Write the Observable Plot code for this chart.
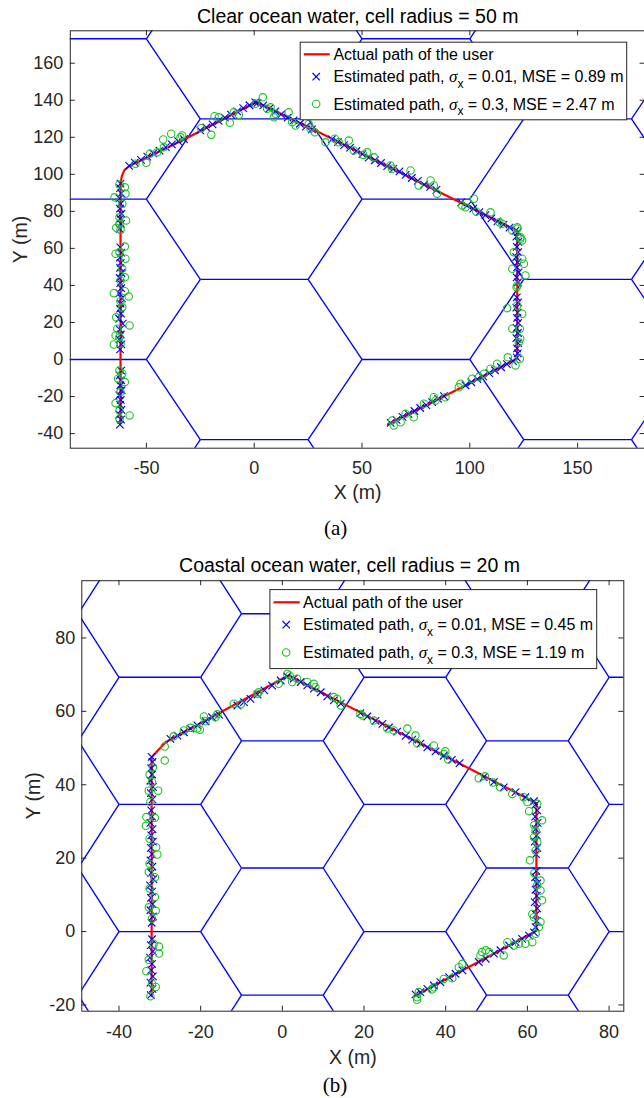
<!DOCTYPE html>
<html><head><meta charset="utf-8">
<script src="https://cdn.jsdelivr.net/npm/d3@7"></script>
<script src="https://cdn.jsdelivr.net/npm/@observablehq/plot@0.6"></script>
<style>
body{margin:0;background:#fff;width:644px;height:1098px;overflow:hidden;font-family:"Liberation Sans",Arial,Helvetica,sans-serif;}
.panel{position:absolute;left:0;width:644px;}
.panel svg{position:absolute;left:0;top:0;}
</style></head><body>
<div id="pa" class="panel" style="top:0;height:540px"></div>
<div id="pb" class="panel" style="top:540px;height:558px"></div>
<script>
// ---------- Panel (a): clear ocean water, cell radius 50 m ----------
const titleA = "Clear ocean water, cell radius = 50 m";
const cellRadiusA = 50;
const xTicksA = [-50, 0, 50, 100, 150];
const yTicksA = [-40, -20, 0, 20, 40, 60, 80, 100, 120, 140, 160];
const mseA = ["0.89", "2.47"];
const pathA = [[-62,-34.5],[-62,95],[-61.4,99],[-60.2,102.3],[-58,104.5],[-33,118.5],[1,139],[27,124.5],[90,88],[122,69.5],[122,0.5],[95,-15.8],[62,-35]];
const estA1 = [
[-62.3,-35.2],[-61.8,-32.5],[-62.4,-29.8],[-61.6,-27.2],[-62.2,-24.5],[-61.9,-21.8],[-62.5,-19.3],[-61.5,-16.6],[-62.1,-13.9],[-61.8,-11.2],[-62.4,-8.6],[-61.7,-6.0],
[-62.2,5.5],[-61.6,8.2],[-62.5,10.8],[-61.9,13.5],[-62.3,16.1],[-61.0,19.4],[-62.6,22.0],[-61.8,24.8],[-62.2,27.5],[-62.0,30.2],[-61.4,33.0],[-62.5,35.7],[-61.7,38.5],[-62.1,41.2],[-62.4,44.0],[-61.6,46.7],[-62.2,49.5],[-61.9,52.2],[-62.3,55.0],[-61.7,57.7],[-62.1,60.5],
[-62.4,70.5],[-61.8,73.2],[-62.2,76.0],[-61.6,78.7],[-62.3,81.5],[-61.9,84.2],[-62.5,87.0],[-61.7,89.7],[-62.2,92.5],[-62.0,95.0],
[-58.0,104.6],[-55.4,106.3],[-52.5,107.8],[-49.6,109.6],[-46.8,111.3],[-43.9,112.8],[-41.0,114.7],[-38.2,116.2],[-35.3,117.9],[-32.6,119.0],
[-25.0,123.7],[-22.2,125.3],[-19.3,127.0],[-16.5,128.9],[-13.6,130.6],[-10.8,132.2],[-7.9,134.0],[-5.1,135.7],[-2.2,137.3],[0.5,138.8],
[1.5,138.6],[4.2,137.2],[7.0,135.5],[9.8,134.0],[12.5,132.4],[15.5,130.6],[18.3,129.1],[21.2,127.3],[24.0,125.8],[26.8,124.3],
[36.0,118.9],[38.8,117.4],[41.7,115.8],[44.5,114.4],[47.4,112.6],[50.2,110.9],[53.1,109.0],[56.0,107.6],[58.8,106.1],[61.7,104.4],[64.5,102.9],[67.4,101.6],[70.2,99.7],[73.1,98.0],[75.9,96.5],[78.8,94.4],[81.6,93.2],[84.5,91.6],
[96.0,84.8],[98.8,83.1],[101.6,81.5],[104.4,79.6],[107.2,78.0],[110.0,76.2],[112.8,74.6],[115.6,72.8],[118.4,71.2],[121.2,69.6],
[122.3,68.8],[121.6,66.4],[122.5,63.5],[121.8,60.8],[122.4,58.0],[121.5,55.3],[122.2,52.5],[121.9,49.7],[122.6,47.0],[121.7,44.3],[122.3,41.6],
[121.8,33.5],[122.4,30.8],[121.6,28.0],[122.2,25.3],[121.9,22.5],[122.5,19.8],[121.7,17.0],[122.3,14.3],[121.6,11.5],[122.4,8.8],[121.9,6.0],[122.2,3.3],[121.8,1.0],
[120.0,-0.9],[117.2,-2.5],[114.5,-4.2],[111.7,-5.8],[109.0,-7.4],[106.2,-9.1],[103.5,-10.6],[100.7,-12.3],[98.0,-13.9],
[88.0,-19.8],[85.3,-21.3],[82.5,-23.0],[79.8,-24.6],[77.0,-26.2],[74.3,-27.8],[71.5,-29.4],[68.8,-31.0],[66.0,-32.6],[63.3,-34.2]];
const estA2 = [
[-62.5,94.5],[-60.0,93.0],[-59.7,89.5],[-64.8,87.6],[-61.2,84.1],[-62.5,76.8],[-59.4,75.1],[-62.5,73.3],[-64.0,71.1],[-62.0,70.0],[-60.0,61.0],[-64.3,57.1],[-62.5,57.9],[-59.7,54.4],[-61.2,49.0],[-60.0,44.4],[-62.0,42.7],[-65.1,35.8],[-60.0,36.9],[-58.2,34.0],[-62.0,31.5],[-61.2,28.2],[-64.0,22.8],[-57.8,18.4],[-63.5,16.6],[-64.3,13.0],[-62.5,12.0],[-65.1,8.1],[-62.0,8.5],[-62.5,-5.9],[-61.2,-7.7],[-63.1,-10.4],[-60.0,-12.2],[-62.0,-17.6],[-64.3,-23.6],[-62.5,-27.5],[-57.8,-30.2],[-62.5,-32.0],
[-55.1,105.7],[-50.0,106.2],[-48.4,111.1],[-45.0,111.9],[-41.9,114.6],[-42.2,118.8],[-38.5,121.9],[-34.2,120.0],[-33.4,121.0],[-24.6,124.9],[-19.9,121.3],[-18.4,131.4],[-16.4,130.8],[-11.3,127.8],[-9.5,133.5],[-7.1,132.1],[0.6,138.1],[4.0,141.6],[6.0,135.4],[9.1,130.8],
[7.6,136.2],[9.9,132.7],[16.0,133.5],[17.6,128.1],[19.2,126.3],[25.3,127.2],[26.1,124.6],[28.1,122.7],[33.1,117.3],[37.4,119.2],[39.2,117.3],[43.9,118.2],[46.2,112.9],[50.6,110.5],[52.4,111.9],[55.5,109.2],[63.2,104.8],[64.0,103.0],[72.5,102.1],[76.3,94.0],[81.8,96.7],[83.3,94.0],[84.8,89.5],[96.5,83.2],[98.0,82.2],[101.9,86.8],[103.0,79.8],[109.6,79.5],[113.7,74.1],[115.0,73.3],[122.0,71.4],[123.5,66.0],[119.7,69.7],
[122.0,70.6],[123.5,65.2],[124.3,64.3],[120.4,57.9],[124.3,54.4],[125.1,51.7],[119.7,49.0],[125.8,45.4],[122.0,40.0],[121.7,39.0],[117.3,27.7],[122.0,29.2],[124.3,24.7],[119.7,16.6],[123.2,16.6],[123.4,11.2],[122.7,9.3],[117.6,1.2],[123.2,0.4],[121.2,-3.2],
[112.7,-2.3],[109.6,-5.0],[106.5,-7.7],[104.2,-9.5],[101.1,-10.4],[95.7,-13.1],[94.9,-15.0],[88.7,-20.4],[83.3,-20.4],[84.1,-22.1],[78.7,-23.9],[74.0,-31.2],[70.2,-29.3],[67.9,-33.9],[64.7,-35.6],[64.0,-32.9]];

// ---------- Panel (b): coastal ocean water, cell radius 20 m ----------
const titleB = "Coastal ocean water, cell radius = 20 m";
const cellRadiusB = 20;
const xTicksB = [-40, -20, 0, 20, 40, 60, 80];
const yTicksB = [-20, 0, 20, 40, 60, 80];
const mseB = ["0.45", "1.19"];
const pathB = [[-32,-17.5],[-32,47.5],[-28.6,51.6],[1.5,69.8],[62.2,35],[62.2,0.2],[32.5,-17.5]];
const estB1 = [
[-32.2,-17.3],[-31.8,-15.6],[-32.3,-13.9],[-31.7,-12.2],[-32.1,-10.5],[-31.9,-8.8],[-32.4,-7.1],[-31.7,-5.4],[-32.2,-3.7],[-31.9,-2.1],
[-32.0,2.4],[-31.7,4.1],[-32.3,5.8],[-31.8,7.5],[-32.2,9.2],[-31.9,10.9],[-32.4,12.6],[-31.6,14.3],[-32.1,16.0],[-31.8,17.7],[-32.3,19.4],[-31.9,21.1],[-32.2,22.8],[-31.7,24.5],[-32.1,26.2],[-31.8,27.9],[-32.3,29.6],[-31.9,31.3],[-32.1,33.0],
[-31.8,36.0],[-32.2,37.7],[-31.7,39.4],[-32.3,41.1],[-31.9,42.8],[-32.1,44.5],[-31.8,46.2],[-32.0,47.6],
[-27.4,52.5],[-25.7,53.4],[-24.1,54.3],[-22.5,55.3],[-20.8,56.2],[-18.8,57.3],[-17.2,58.4],[-15.5,59.1],[-11.0,61.6],[-9.4,62.5],[-7.8,63.4],[-6.1,64.6],[-4.4,65.7],[-2.5,67.0],[-0.4,68.4],[1.2,69.5],
[2.8,68.9],[4.5,68.0],[6.1,67.1],[7.7,66.2],[9.4,65.2],[11.0,64.1],[12.6,63.0],[14.3,62.1],[19.1,59.5],[20.8,58.6],[22.8,57.4],[24.5,56.6],[26.1,55.6],[28.1,54.5],[30.2,53.3],[31.8,52.3],[33.8,51.2],[35.5,50.2],[37.5,49.1],[39.5,47.9],[41.5,46.8],[43.4,45.9],[49.3,42.1],[51.8,40.7],[54.2,39.3],[57.1,38.0],[59.5,36.6],[61.6,35.5],
[62.0,34.6],[62.4,33.0],[61.9,31.3],[62.5,29.6],[62.0,27.9],[62.3,26.2],[61.8,24.5],[62.4,22.8],[62.1,21.1],[62.2,16.5],[61.9,14.8],[62.4,13.1],[62.0,11.4],[62.3,9.7],[61.8,8.0],[62.4,6.3],[62.1,4.6],[62.3,2.9],[62.0,1.2],
[61.6,-0.2],[60.4,-1.1],[58.7,-2.0],[57.1,-2.9],[55.5,-3.8],[53.4,-5.1],[51.8,-6.0],[49.8,-7.4],[48.1,-8.3],[44.1,-10.6],[42.4,-11.5],[40.8,-12.4],[38.7,-13.8],[37.1,-14.7],[35.5,-15.6],[33.8,-16.5],[32.6,-17.1]];
const estB2 = [
[-28.8,50.4],[-28.8,46.6],[-31.7,44.8],[-32.5,42.8],[-31.9,40.7],[-32.7,38.4],[-30.4,38.4],[-32.3,35.3],[-31.2,31.0],[-33.3,31.2],[-33.4,28.8],[-32.5,25.3],[-30.9,23.0],[-30.6,21.0],[-32.5,18.5],[-32.7,16.2],[-31.2,14.8],[-32.5,11.7],[-31.2,9.4],[-32.7,6.6],[-31.0,5.7],[-31.9,3.5],[-31.5,-3.3],[-30.2,-4.1],[-30.2,-6.0],[-32.7,-7.7],[-33.3,-10.8],[-31.9,-14.2],[-31.0,-15.1],[-32.3,-17.6],
[-26.6,53.2],[-24.1,54.8],[-22.5,55.5],[-20.8,55.3],[-20.2,55.0],[-19.2,58.6],[-18.8,57.3],[-16.4,58.4],[-15.9,59.2],[-11.9,62.1],[-10.2,61.9],[-6.1,64.8],[-5.8,65.2],[-0.9,67.5],[1.2,70.2],[1.8,69.8],[2.4,68.0],
[3.6,68.9],[6.1,68.0],[7.7,67.5],[8.1,66.6],[12.6,63.9],[13.4,63.4],[14.3,61.6],[19.1,59.3],[19.6,58.9],[22.4,57.5],[25.7,55.3],[27.3,54.8],[30.6,55.3],[32.6,53.4],[33.0,51.3],[37.1,50.7],[39.9,49.1],[39.6,48.4],[40.6,46.9],[48.1,41.8],[49.6,42.3],[51.6,40.6],[53.3,39.3],[56.3,37.5],[59.1,36.6],[60.0,35.3],[62.4,34.8],
[60.4,32.8],[63.6,30.3],[61.7,29.0],[62.0,27.5],[61.6,25.7],[62.4,24.4],[62.0,22.1],[60.6,19.4],[61.7,15.9],[63.2,13.9],[62.4,12.6],[63.2,11.2],[63.6,8.5],[61.2,4.8],[61.6,3.9],[63.2,2.6],[62.8,1.2],
[62.0,-0.6],[61.2,-2.9],[59.5,-3.3],[57.9,-3.3],[56.7,-3.8],[55.1,-2.9],[54.2,-6.5],[50.6,-5.6],[49.8,-5.1],[48.5,-6.5],[48.9,-5.6],[44.1,-8.8],[43.2,-9.7],[41.6,-12.7],[39.5,-12.9],[37.1,-15.2],[36.6,-15.8],[33.4,-16.5],[33.0,-17.9],[33.0,-18.6]];

const sigmas = ["0.01", "0.3"];
const legendFirst = "Actual path of the user";
const FONT = "'Liberation Sans', Arial, Helvetica, sans-serif";
const SERIF = "'Liberation Serif', 'Times New Roman', Times, serif";
const AX = "#262626", BLUE = "#0000ff", RED = "#ff0000", GREEN = "#1cc41c";
const XR = 3.5, OR = 3.7;

// flat-top hexagonal cell grid of the given circumradius (unique edges)
function hexEdges(R, xd, yd) {
  const h = R * Math.sqrt(3) / 2, edges = new Map();
  const key = p => p.map(v => String(Math.round(v * 100) / 100 + 0)).join(",");
  for (let i = Math.floor(xd[0] / (1.5 * R)) - 1; i <= Math.ceil(xd[1] / (1.5 * R)) + 1; i++) {
    for (let j = Math.floor(yd[0] / (2 * h)) - 2; j <= Math.ceil(yd[1] / (2 * h)) + 2; j++) {
      const cx = 1.5 * R * i, cy = 2 * h * j + (Math.abs(i) % 2 ? h : 0);
      const vs = d3.range(6).map(k => [cx + R * Math.cos(k * Math.PI / 3), cy + R * Math.sin(k * Math.PI / 3)]);
      for (let k = 0; k < 6; k++) {
        const a = vs[k], b = vs[(k + 1) % 6];
        const kk = [key(a), key(b)].sort().join("|");
        if (!edges.has(kk)) edges.set(kk, {x1: a[0], y1: a[1], x2: b[0], y2: b[1]});
      }
    }
  }
  return [...edges.values()];
}

function panel(c) {
  const fw = c.width - c.ml - c.mr, fh = c.height - c.mt - c.mb;
  return Plot.plot({
    width: c.width, height: c.height,
    marginLeft: c.ml, marginRight: c.mr, marginTop: c.mt, marginBottom: c.mb,
    x: {domain: c.xd}, y: {domain: c.yd},
    style: {fontFamily: FONT, fontSize: "18px", color: AX, background: "white", overflow: "visible"},
    marks: [
      Plot.link(hexEdges(c.R, c.xd, c.yd), {x1: "x1", y1: "y1", x2: "x2", y2: "y2", stroke: BLUE, strokeWidth: 1.35, clip: true}),
      Plot.line(c.path, {x: d => d[0], y: d => d[1], stroke: RED, strokeWidth: 2.2, clip: true}),
      Plot.dot(c.e1, {x: d => d[0], y: d => d[1], symbol: "times", r: XR, stroke: BLUE, strokeWidth: 1.15}),
      Plot.dot(c.e2, {x: d => d[0], y: d => d[1], symbol: "circle", r: OR, stroke: GREEN, fill: "none", strokeWidth: 1.1}),
      Plot.frame({stroke: AX, strokeWidth: 1}),
      Plot.tickX(c.xt, {x: d => d, insetTop: fh - 5, stroke: AX}),
      Plot.tickX(c.xt, {x: d => d, insetBottom: fh - 5, stroke: AX}),
      Plot.tickY(c.yt, {y: d => d, insetRight: fw - 5, stroke: AX}),
      Plot.tickY(c.yt, {y: d => d, insetLeft: fw - 5, stroke: AX}),
      Plot.axisX({ticks: c.xt, tickSize: 0, tickPadding: c.xpad, tickFormat: d => String(d), label: null}),
      Plot.axisY({ticks: c.yt, tickSize: 0, tickPadding: c.ypad, tickFormat: d => String(d), label: null}),
      Plot.text([c.title], {frameAnchor: "top", lineAnchor: "middle", textAnchor: "middle", dx: c.tdx, dy: c.tdy, fontSize: 19.5, fill: "#000"}),
      Plot.text(["X (m)"], {frameAnchor: "bottom", lineAnchor: "middle", textAnchor: "middle", dy: c.xldy, fontSize: 19.5, fill: AX}),
      Plot.text(["Y (m)"], {frameAnchor: "left", lineAnchor: "middle", textAnchor: "middle", dx: c.yldx, rotate: -90, fontSize: 19.5, fill: AX}),
      Plot.text([c.caption], {frameAnchor: "bottom", lineAnchor: "middle", textAnchor: "middle", dx: c.cdx, dy: c.cdy, fontSize: 21, fontFamily: SERIF, fill: "#000"})
    ]
  });
}

function legend(el, L, mse) {
  const svg = d3.select(el).append("svg").attr("width", 644).attr("height", L.h)
    .style("pointer-events", "none").attr("font-family", FONT);
  svg.append("rect").attr("x", L.bx + 0.5).attr("y", L.by + 0.5).attr("width", L.bw).attr("height", L.bh)
    .attr("fill", "white").attr("stroke", AX).attr("stroke-width", 1);
  svg.append("line").attr("x1", L.lx1).attr("x2", L.lx2).attr("y1", L.ys[0]).attr("y2", L.ys[0])
    .attr("stroke", RED).attr("stroke-width", 2.2);
  const r = XR * 1.06;
  svg.append("path").attr("d", `M${L.mx - r},${L.ys[1] - r}L${L.mx + r},${L.ys[1] + r}M${L.mx - r},${L.ys[1] + r}L${L.mx + r},${L.ys[1] - r}`)
    .attr("stroke", BLUE).attr("stroke-width", 1.15).attr("fill", "none");
  svg.append("circle").attr("cx", L.mx).attr("cy", L.ys[2]).attr("r", OR).attr("stroke", GREEN).attr("stroke-width", 1.1).attr("fill", "none");
  svg.append("text").attr("x", L.tx).attr("y", L.ys[0] + 5.7).attr("font-size", 16).attr("fill", "#000").text(legendFirst);
  [1, 2].forEach(i => {
    const t = svg.append("text").attr("x", L.tx).attr("y", L.ys[i] + 5.7).attr("font-size", 16).attr("fill", "#000").style("white-space", "pre");
    t.append("tspan").text("Estimated path, ");
    t.append("tspan").attr("font-style", "italic").attr("font-family", SERIF).attr("font-size", 17).text("\u03c3");
    t.append("tspan").attr("font-size", 12).attr("dy", 5.7).text("x");
    t.append("tspan").attr("dy", -5.7).text(` = ${sigmas[i - 1]}, MSE = ${mse[i - 1]} m`);
  });
}

const pa = document.getElementById("pa"), pb = document.getElementById("pb");
pa.appendChild(panel({
  width: 644, height: 540, ml: 69.8, mr: -0.6, mt: 30.3, mb: 92.3,
  xd: [-85.3, 181.3], yd: [-47.9, 177.5], R: cellRadiusA,
  xt: xTicksA, yt: yTicksA, path: pathA, e1: estA1, e2: estA2, title: titleA, caption: "(a)",
  xpad: 13, ypad: 7, tdx: 0, tdy: -13.6, xldy: 45, yldx: -49.3, cdx: -22, cdy: 80.3
}));
legend(pa, {h: 540, bx: 299.7, by: 41.7, bw: 326.5, bh: 77.6, lx1: 303.8, lx2: 329.7, mx: 316.2, tx: 333.4, ys: [54.3, 76.7, 104]}, mseA);
pb.appendChild(panel({
  width: 644, height: 558, ml: 81.3, mr: 20.7, mt: 40.2, mb: 87.3,
  xd: [-49.1, 83.6], yd: [-21.7, 95.6], R: cellRadiusB,
  xt: xTicksB, yt: yTicksB, path: pathB, e1: estB1, e2: estB2, title: titleB, caption: "(b)",
  xpad: 14, ypad: 6.5, tdx: -3.3, tdy: -14.6, xldy: 47, yldx: -48.5, cdx: -17.7, cdy: 73.7
}));
legend(pb, {h: 558, bx: 269.4, by: 49.1, bw: 326.8, bh: 79, lx1: 273.5, lx2: 299.7, mx: 286.2, tx: 303, ys: [62.3, 84.7, 112.4]}, mseB);
</script>
</body></html>
